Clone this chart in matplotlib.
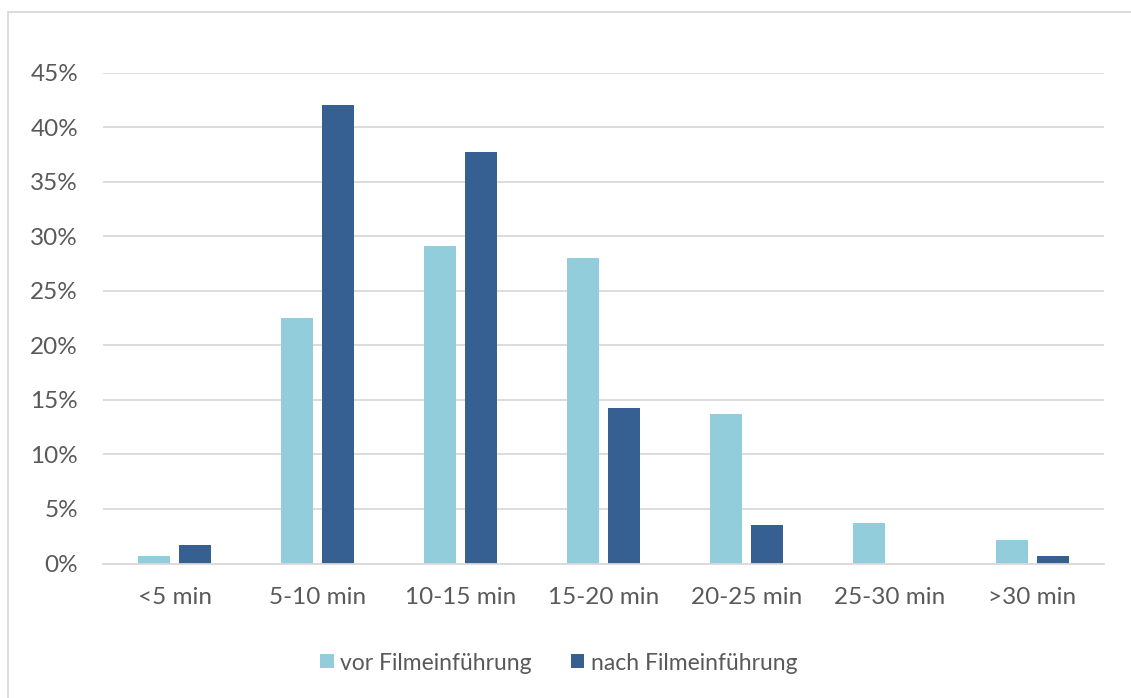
import matplotlib.pyplot as plt
from matplotlib.patches import Rectangle
from matplotlib.ticker import PercentFormatter
import numpy as np

# Reisezeit-Kategorien und Anteile (in %)
categories = ["<5 min", "5-10 min", "10-15 min", "15-20 min", "20-25 min", "25-30 min", ">30 min"]
vor_values = [0.73, 22.5, 29.1, 28.0, 13.7, 3.7, 2.2]
nach_values = [1.74, 42.0, 37.7, 14.3, 3.5, 0.0, 0.68]
series_names = ["vor Filmeinführung", "nach Filmeinführung"]

light_blue = "#92CDDC"
dark_blue = "#366092"
text_gray = "#595959"
grid_gray = "#D9D9D9"

plt.rcParams['font.family'] = ['Lato', 'DejaVu Sans']

fig = plt.figure(figsize=(11.31, 6.98), dpi=100)
ax = fig.add_axes([103 / 1131, (698 - 563.5) / 698, 1001 / 1131, 490.8 / 698])

x = np.arange(len(categories))
width = 0.224
offset = 0.143
ax.bar(x - offset, vor_values, width, color=light_blue, label=series_names[0], zorder=3)
ax.bar(x + offset, nach_values, width, color=dark_blue, label=series_names[1], zorder=3)

ax.set_xlim(-0.5, len(categories) - 0.5)
ax.set_ylim(0, 45)
ax.set_yticks(np.arange(0, 46, 5))
ax.yaxis.set_major_formatter(PercentFormatter(decimals=0))
ax.set_xticks(x)
ax.set_xticklabels(categories)

ax.grid(axis='y', color=grid_gray, linewidth=1.3, zorder=0)
for side in ["top", "right", "left"]:
    ax.spines[side].set_visible(False)
ax.spines["bottom"].set_color(grid_gray)
ax.spines["bottom"].set_linewidth(1.3)
ax.spines["bottom"].set_zorder(4)

ax.tick_params(axis='both', length=0, labelsize=17.5, labelcolor=text_gray)
ax.tick_params(axis='y', pad=18)
ax.tick_params(axis='x', pad=17)

leg = fig.legend(loc='center', bbox_to_anchor=(559 / 1131, 1 - 663 / 698), ncol=2,
                 frameon=False, fontsize=16.5, handlelength=0.57, handleheight=0.57,
                 handletextpad=0.3, columnspacing=1.7)
for t in leg.get_texts():
    t.set_color(text_gray)

# Rahmen um das Diagramm
fig.patches.append(Rectangle((7.5 / 1131, -0.1), 1.2, 1 - 12.5 / 698 + 0.1,
                             transform=fig.transFigure, fill=False,
                             edgecolor=grid_gray, linewidth=1.3, clip_on=False))

fig.savefig("out.png", dpi=100)
